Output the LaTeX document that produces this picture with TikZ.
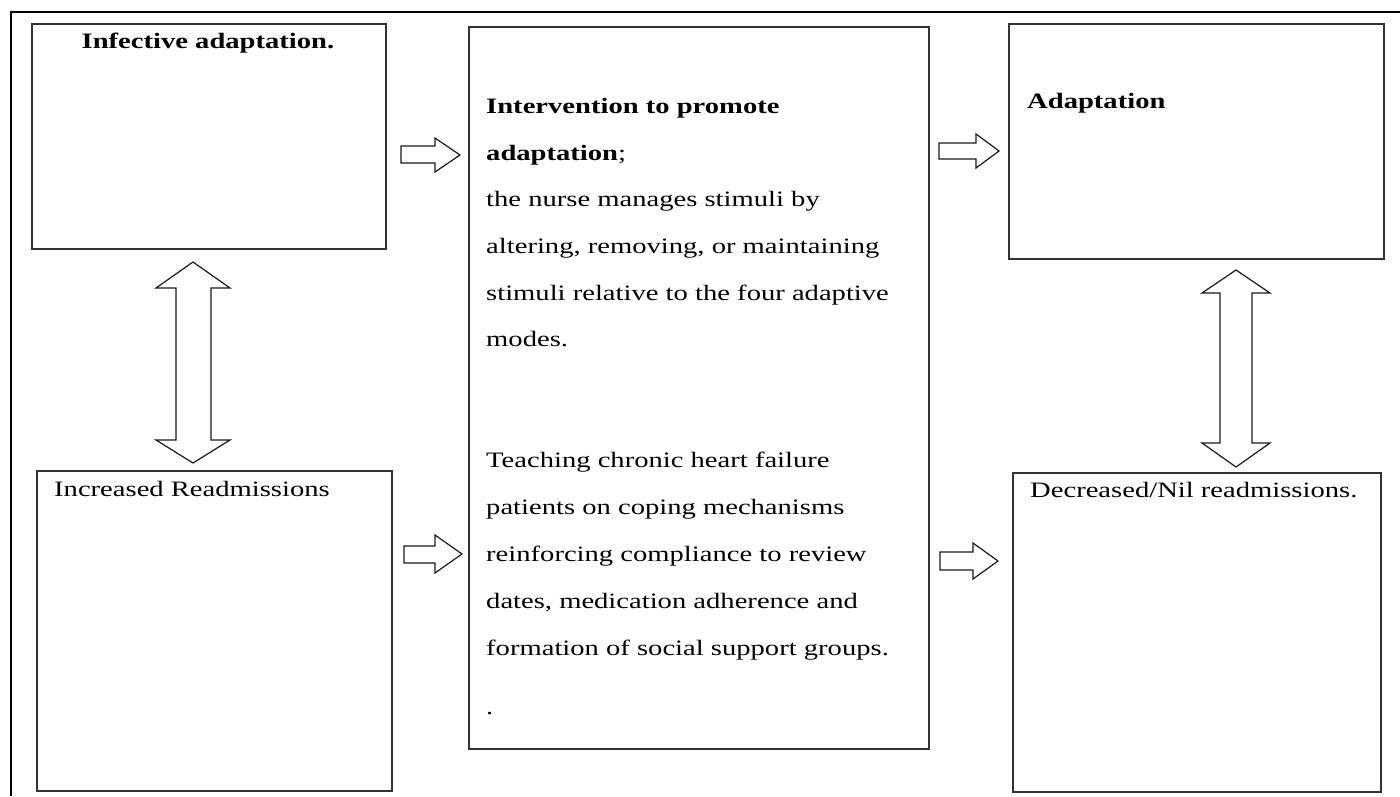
\documentclass[tikz,border=0pt]{standalone}
\usepackage{fontspec}
\setmainfont[FakeStretch=1.3]{Liberation Serif}
\begin{document}
\begin{tikzpicture}[x=1pt,y=-1pt,
  box/.style={draw=black!80, line width=1.6pt, anchor=north west, inner sep=0pt},
  txt/.style={anchor=base west, inner sep=0pt, font=\fontsize{22}{26}\selectfont},
  blockarrow/.style={draw=black!90, line width=1.2pt, fill=white, line join=miter},
  frame/.style={draw=black, line width=1.5pt}]
\useasboundingbox (0,0) rectangle (1400,796);
\fill[white] (0,0) rectangle (1400,796);
% outer frame (cut by the picture's edge)
\draw[frame] (1400,12) -- (11,12) -- (11,796);
% boxes
\node[box, minimum width=354pt, minimum height=225pt] (b1) at (31,23) {};
\node[box, minimum width=460pt, minimum height=722pt] (mid) at (468,26) {};
\node[box, minimum width=375pt, minimum height=235pt] (ad) at (1008,23) {};
\node[box, minimum width=355pt, minimum height=320pt] (inc) at (36,470) {};
\node[box, minimum width=368pt, minimum height=319pt] (dec) at (1012,472) {};
% box texts
\node[txt, anchor=base] (t1) at (208,48) {\textbf{Infective adaptation.}};
\node[txt] (t2) at (1027,108) {\textbf{Adaptation}};
\node[txt] (t3) at (54,496) {Increased Readmissions};
\node[txt] (t4) at (1030,497) {Decreased/Nil readmissions.};
% middle text
\node[txt] (m1) at (486,113.5) {\textbf{Intervention to promote}};
\node[txt] (m2) at (486,160) {\textbf{adaptation};};
\node[txt] (m3) at (486,206.5) {the nurse manages stimuli by};
\node[txt] (m4) at (486,253) {altering, removing, or maintaining};
\node[txt] (m5) at (486,300) {stimuli relative to the four adaptive};
\node[txt] (m6) at (486,346) {modes.};
\node[txt] (m7) at (486,467) {Teaching chronic heart failure};
\node[txt] (m8) at (486,514) {patients on coping mechanisms};
\node[txt] (m9) at (486,561) {reinforcing compliance to review};
\node[txt] (m10) at (486,608) {dates, medication adherence and};
\node[txt] (m11) at (486,655) {formation of social support groups.};
\node[txt] (m12) at (486,714) {.};
% single block arrows
\draw[blockarrow] (401,146) -- (435,146) -- (435,138) -- (460,155) -- (435,172) -- (435,163) -- (401,163) -- cycle;
\draw[blockarrow] (939,143) -- (976,143) -- (976,134) -- (999,151) -- (976,168) -- (976,159) -- (939,159) -- cycle;
\draw[blockarrow] (404,546) -- (435,546) -- (435,535) -- (462,554) -- (435,573) -- (435,563) -- (404,563) -- cycle;
\draw[blockarrow] (940,552) -- (973,552) -- (973,543) -- (998,561) -- (973,579) -- (973,570) -- (940,570) -- cycle;
% double block arrows
\draw[blockarrow] (193,262) -- (230,288) -- (211,288) -- (211,440) -- (230,440) -- (193,463) -- (156,440) -- (176,440) -- (176,288) -- (156,288) -- cycle;
\draw[blockarrow] (1236,270) -- (1270,293) -- (1252,293) -- (1252,443) -- (1270,443) -- (1236,467) -- (1202,443) -- (1220,443) -- (1220,293) -- (1202,293) -- cycle;
\end{tikzpicture}
\end{document}
